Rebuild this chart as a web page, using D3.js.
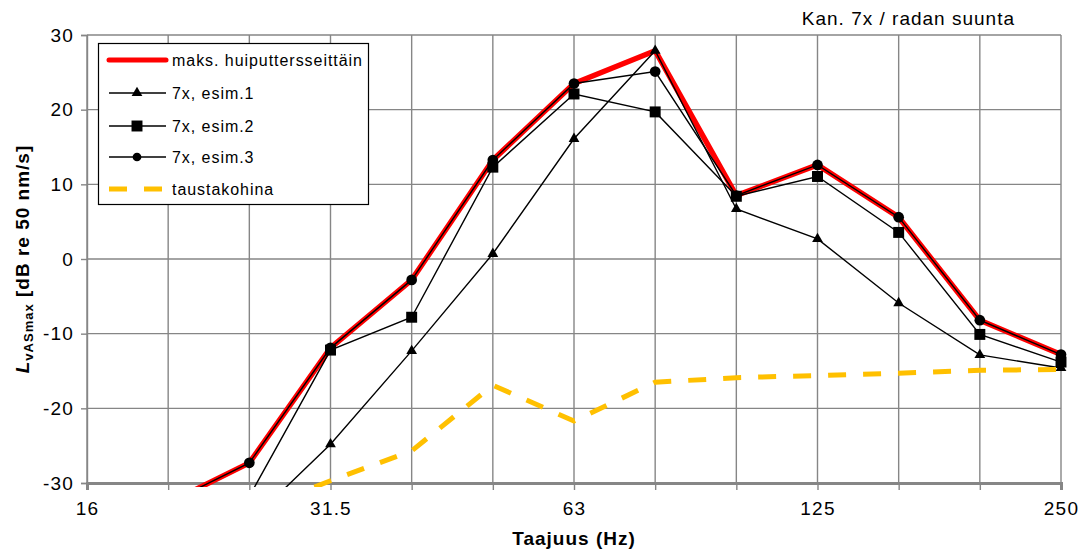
<!DOCTYPE html>
<html>
<head>
<meta charset="utf-8">
<script src="https://cdn.jsdelivr.net/npm/d3@7"></script>
<style>
  body { margin: 0; background: #fff; }
  svg { display: block; font-family: "Liberation Sans", Arial, sans-serif; }
</style>
</head>
<body>
<svg id="chart" width="1084" height="556"></svg>
<script>
// ---- data ----
const categories = ["16", "20", "25", "31.5", "40", "50", "63", "80", "100", "125", "160", "200", "250"];
const tickLabels = ["16", "31.5", "63", "125", "250"];
const yTicks = [-30, -20, -10, 0, 10, 20, 30];
const maksValues  = [null, -32.7, -27.3, -11.9, -2.8, 13.25, 23.5, 27.9, 8.5, 12.6, 5.6, -8.2, -12.8];
const esim1Values = [null, -45.0, -35.3, -24.8, -12.3, 0.7, 16.1, 27.9, 6.7, 2.7, -5.9, -12.85, -14.6];
const esim2Values = [null, -50.0, -31.8, -12.2, -7.8, 12.3, 22.1, 19.7, 8.4, 11.05, 3.56, -10.1, -13.8];
const esim3Values = [null, -32.7, -27.3, -11.9, -2.8, 13.25, 23.5, 25.1, 8.5, 12.6, 5.6, -8.2, -12.8];
const taustaValues = [null, null, -34.0, -29.7, -25.7, -16.9, -21.7, -16.5, -15.9, -15.6, -15.3, -14.9, -14.8];
const seriesNames = ["maks. huiputtersseittäin", "7x, esim.1", "7x, esim.2", "7x, esim.3", "taustakohina"];
const titleText = "Kan. 7x / radan suunta";
const xTitle = "Taajuus (Hz)";

// ---- layout ----
const svg = d3.select("#chart");
const L = 87, R = 1061, T = 35, B = 483;
const x = d3.scalePoint().domain(categories).range([L, R]).padding(0);
const y = d3.scaleLinear().domain([-30, 30]).range([B, T]);
const gridColor = "#868686";
const FONT = "Liberation Sans, Arial, sans-serif";

// grid
const grid = svg.append("g");
grid.selectAll("line.h").data(yTicks).enter().append("line")
  .attr("x1", L).attr("x2", R).attr("y1", d => y(d)).attr("y2", d => y(d))
  .attr("stroke", gridColor).attr("stroke-width", 1.4);
grid.selectAll("line.v").data(categories).enter().append("line")
  .attr("x1", d => x(d)).attr("x2", d => x(d)).attr("y1", T).attr("y2", B)
  .attr("stroke", gridColor).attr("stroke-width", 1.4);

// y axis
const yAxis = d3.axisLeft(y).tickValues(yTicks).tickSize(6).tickPadding(7)
  .tickFormat(d => String(d));
const gy = svg.append("g").attr("transform", `translate(${L},0)`).call(yAxis);
gy.select(".domain").attr("stroke", gridColor).attr("stroke-width", 1.4);
gy.selectAll(".tick line").attr("stroke", gridColor).attr("stroke-width", 1.4);
gy.selectAll(".tick text").attr("font-size", 19).attr("fill", "#000")
  .attr("font-family", FONT).attr("letter-spacing", 1.2);

// x axis
const xAxis = d3.axisBottom(x).tickValues(categories).tickSize(7).tickPadding(12)
  .tickFormat(d => tickLabels.includes(d) ? d : "");
const gx = svg.append("g").attr("transform", `translate(0,${B})`).call(xAxis);
gx.select(".domain").attr("stroke", gridColor).attr("stroke-width", 3);
gx.selectAll(".tick line").attr("stroke", gridColor).attr("stroke-width", 1.4);
gx.selectAll(".tick text").attr("font-size", 19).attr("fill", "#000")
  .attr("font-family", FONT).attr("letter-spacing", 1.2);

// clip
svg.append("defs").append("clipPath").attr("id", "plotclip")
  .append("rect").attr("x", L - 8).attr("y", T - 10).attr("width", R - L + 20).attr("height", B - T + 14);

const plot = svg.append("g").attr("clip-path", "url(#plotclip)");
const line = d3.line().defined(d => d[1] !== null).x(d => x(d[0])).y(d => y(d[1]));
const pairs = vals => categories.map((c, i) => [c, vals[i]]);

// red max line
plot.append("path").datum(pairs(maksValues)).attr("d", line)
  .attr("fill", "none").attr("stroke", "#ff0000").attr("stroke-width", 5.5).attr("stroke-linejoin", "round");

const blackSeries = [
  { vals: esim1Values, sym: d3.symbolTriangle, size: 50 },
  { vals: esim2Values, sym: d3.symbolSquare, size: 120 },
  { vals: esim3Values, sym: d3.symbolCircle, size: 90 }
];
blackSeries.forEach(s => {
  plot.append("path").datum(pairs(s.vals)).attr("d", line)
    .attr("fill", "none").attr("stroke", "#000").attr("stroke-width", 1.4);
  plot.selectAll(null).data(pairs(s.vals).filter(d => d[1] !== null && d[1] >= -30)).enter()
    .append("path")
    .attr("d", d3.symbol().type(s.sym).size(s.size))
    .attr("transform", d => `translate(${x(d[0])},${y(d[1])})`)
    .attr("fill", "#000");
});

// background noise
plot.append("path").datum(pairs(taustaValues)).attr("d", line)
  .attr("fill", "none").attr("stroke", "#ffc000").attr("stroke-width", 5)
  .attr("stroke-dasharray", "18,17");

// legend
const lg = svg.append("g");
lg.append("rect").attr("x", 98.5).attr("y", 43.5).attr("width", 270).attr("height", 161)
  .attr("fill", "#fff").attr("stroke", "#000").attr("stroke-width", 1.2);
const rowY = [60, 93, 126, 157, 189];
const legendStyles = [
  { color: "#ff0000", w: 5, dash: null, sym: null },
  { color: "#000", w: 1.4, dash: null, sym: d3.symbolTriangle, size: 50 },
  { color: "#000", w: 1.4, dash: null, sym: d3.symbolSquare, size: 120 },
  { color: "#000", w: 1.4, dash: null, sym: d3.symbolCircle, size: 60 },
  { color: "#ffc000", w: 5, dash: "18,17", sym: null }
];
seriesNames.forEach((name, i) => {
  const st = legendStyles[i];
  const ln = lg.append("line").attr("x1", 109).attr("x2", 166).attr("y1", rowY[i]).attr("y2", rowY[i])
    .attr("stroke", st.color).attr("stroke-width", st.w);
  if (st.dash) ln.attr("stroke-dasharray", st.dash);
  if (i === 0) ln.attr("stroke-linecap", "round");
  if (st.sym) lg.append("path").attr("d", d3.symbol().type(st.sym).size(st.size))
    .attr("transform", `translate(137,${rowY[i]})`).attr("fill", "#000");
  lg.append("text").attr("x", 172).attr("y", rowY[i] + 6).attr("font-size", 16)
    .attr("letter-spacing", 0.95).text(name);
});

// title
svg.append("text").attr("x", 1015).attr("y", 25).attr("text-anchor", "end")
  .attr("font-size", 19).attr("letter-spacing", 1).text(titleText);

// x title
svg.append("text").attr("x", (L + R) / 2).attr("y", 545).attr("text-anchor", "middle")
  .attr("font-size", 19).attr("font-weight", "bold").attr("letter-spacing", 1).text(xTitle);

// y title
const yt = svg.append("text").attr("transform", `translate(29,${(T + B) / 2}) rotate(-90)`)
  .attr("text-anchor", "middle").attr("font-size", 19).attr("font-weight", "bold")
  .attr("letter-spacing", 1);
yt.append("tspan").attr("font-style", "italic").text("L");
yt.append("tspan").attr("font-size", 13).attr("dy", 4).text("vASmax");
yt.append("tspan").attr("dy", -4).text(" [dB re 50 nm/s]");
</script>
</body>
</html>
